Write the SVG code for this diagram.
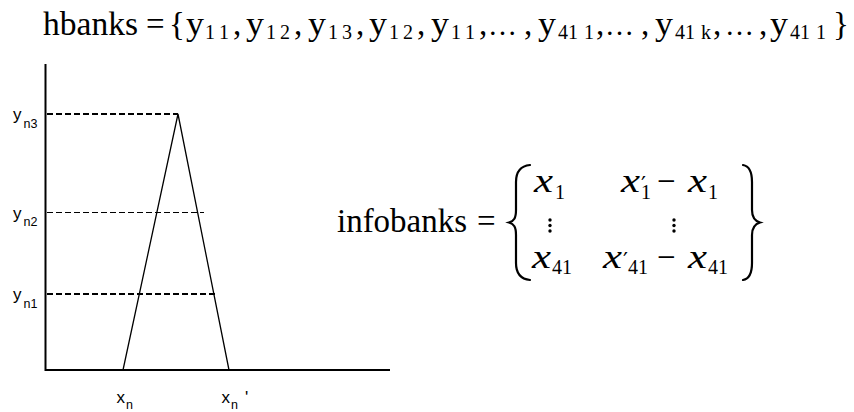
<svg xmlns="http://www.w3.org/2000/svg" width="854" height="412" viewBox="0 0 854 412">
<style>
.m{font-family:"Liberation Serif","DejaVu Serif",serif;font-size:33px;fill:#000}
.e{font-family:"Liberation Serif","DejaVu Serif",serif;font-size:29px;fill:#000}
.s{font-family:"Liberation Serif","DejaVu Serif",serif;font-size:20px;font-style:normal;fill:#000}
.v{font-family:"Liberation Serif","DejaVu Serif",serif;font-size:34px;font-style:italic;fill:#000}
.p{font-family:"DejaVu Serif","Liberation Serif",serif;font-size:22px;font-style:normal;fill:#000}
.l{font-family:"Liberation Sans",Arial,sans-serif;font-size:17px;fill:#000}
.ls{font-family:"Liberation Sans",Arial,sans-serif;font-size:12.5px;fill:#000}
.ax{stroke:#000;stroke-width:2;fill:none}
.tri{stroke:#000;stroke-width:1.3;fill:none}
.d{stroke:#000;stroke-dasharray:6 3;fill:none}
.br{stroke:#000;stroke-width:2.2;fill:none;stroke-linecap:round}
.dot{fill:#000}
</style>
<g id="title">
<text class="m" x="43" y="34.5" textLength="95" lengthAdjust="spacingAndGlyphs">hbanks</text>
<text class="m" x="146" y="34.5">=</text>
<text class="m" x="169" y="34.5">{</text>
<text class="m" x="186" y="34.5" textLength="18" lengthAdjust="spacingAndGlyphs">y</text>
<text class="s" x="205" y="38.5">1</text><text class="s" x="219" y="38.5">1</text>
<text class="m" x="233" y="34.5">,</text>
<text class="m" x="246" y="34.5" textLength="18" lengthAdjust="spacingAndGlyphs">y</text>
<text class="s" x="266" y="38.5">1</text><text class="s" x="280" y="38.5">2</text>
<text class="m" x="294" y="34.5">,</text>
<text class="m" x="308" y="34.5" textLength="18" lengthAdjust="spacingAndGlyphs">y</text>
<text class="s" x="328" y="38.5">1</text><text class="s" x="342" y="38.5">3</text>
<text class="m" x="356" y="34.5">,</text>
<text class="m" x="369" y="34.5" textLength="18" lengthAdjust="spacingAndGlyphs">y</text>
<text class="s" x="389" y="38.5">1</text><text class="s" x="403" y="38.5">2</text>
<text class="m" x="417" y="34.5">,</text>
<text class="m" x="431" y="34.5" textLength="18" lengthAdjust="spacingAndGlyphs">y</text>
<text class="s" x="451" y="38.5">1</text><text class="s" x="465" y="38.5">1</text>
<text class="m" x="479" y="34.5">,</text>
<text class="e" x="488" y="34.5">…</text>
<text class="m" x="524" y="34.5">,</text>
<text class="m" x="538" y="34.5" textLength="18" lengthAdjust="spacingAndGlyphs">y</text>
<text class="s" x="558" y="38.5">41</text><text class="s" x="584" y="38.5">1</text>
<text class="m" x="596" y="34.5">,</text>
<text class="e" x="605" y="34.5">…</text>
<text class="m" x="641" y="34.5">,</text>
<text class="m" x="655" y="34.5" textLength="18" lengthAdjust="spacingAndGlyphs">y</text>
<text class="s" x="675" y="38.5">41</text><text class="s" x="701" y="38.5">k</text>
<text class="m" x="713" y="34.5">,</text>
<text class="e" x="725" y="34.5">…</text>
<text class="m" x="759" y="34.5">,</text>
<text class="m" x="770" y="34.5" textLength="18" lengthAdjust="spacingAndGlyphs">y</text>
<text class="s" x="790" y="38.5">41</text><text class="s" x="816" y="38.5">1</text>
<text class="m" x="833" y="34.5">}</text>
</g>
<g id="chart">
<path class="ax" d="M45.5 64 V370 H390"/>
<path class="tri" d="M123 370 L178 114 L229 370"/>
<line class="d" x1="47" y1="114" x2="178" y2="114" stroke-width="2"/>
<line class="d" x1="47" y1="212.5" x2="204" y2="212.5" stroke-width="1.2"/>
<line class="d" x1="47" y1="294" x2="217" y2="294" stroke-width="2"/>
</g>
<g id="labels">
<text class="l" x="13" y="120">y</text><text class="ls" x="23.5" y="127.5">n3</text>
<text class="l" x="13" y="218.5">y</text><text class="ls" x="23.5" y="226">n2</text>
<text class="l" x="13" y="300">y</text><text class="ls" x="23.5" y="307.5">n1</text>
<text class="l" x="116.5" y="403">x</text><text class="ls" x="126" y="408.5">n</text>
<text class="l" x="221.5" y="403">x</text><text class="ls" x="231" y="408.5">n</text><text class="l" x="245" y="403">'</text>
</g>
<g id="infobanks">
<text class="m" x="337" y="232" textLength="130" lengthAdjust="spacingAndGlyphs">infobanks</text>
<text class="m" x="477" y="232">=</text>
<path class="br" d="M530 165 C520 166 516 172 516 182 L516 210 C516 218 514 221 509 222.5 C514 224 516 227 516 235 L516 263 C516 273 520 279 530 280"/>
<path class="br" d="M743 165 C749 166 752 172 752 182 L752 210 C752 218 755 221 760 222.5 C755 224 752 227 752 235 L752 263 C752 273 749 279 743 280"/>
<text class="v" x="534" y="192" textLength="19" lengthAdjust="spacingAndGlyphs">x</text>
<text class="s" x="555" y="199">1</text>
<text x="621" y="192"><tspan class="v" textLength="19" lengthAdjust="spacingAndGlyphs">x</tspan><tspan class="p" x="641" y="192">′</tspan><tspan class="s" x="641" y="199">1</tspan></text>
<text class="m" x="657" y="192">−</text>
<text class="v" x="688" y="192" textLength="19" lengthAdjust="spacingAndGlyphs">x</text>
<text class="s" x="708" y="199">1</text>
<circle class="dot" cx="550" cy="220" r="1.7"/><circle class="dot" cx="550" cy="225.5" r="1.7"/><circle class="dot" cx="550" cy="231" r="1.7"/>
<circle class="dot" cx="674" cy="220" r="1.7"/><circle class="dot" cx="674" cy="225.5" r="1.7"/><circle class="dot" cx="674" cy="231" r="1.7"/>
<text class="v" x="532" y="268" textLength="19" lengthAdjust="spacingAndGlyphs">x</text>
<text class="s" x="552" y="274">41</text>
<text x="603" y="268"><tspan class="v" textLength="19" lengthAdjust="spacingAndGlyphs">x</tspan><tspan class="p" x="623" y="268">′</tspan><tspan class="s" x="628" y="274">41</tspan></text>
<text class="m" x="657" y="268">−</text>
<text class="v" x="688" y="268" textLength="19" lengthAdjust="spacingAndGlyphs">x</text>
<text class="s" x="708" y="274">41</text>
</g>
</svg>
